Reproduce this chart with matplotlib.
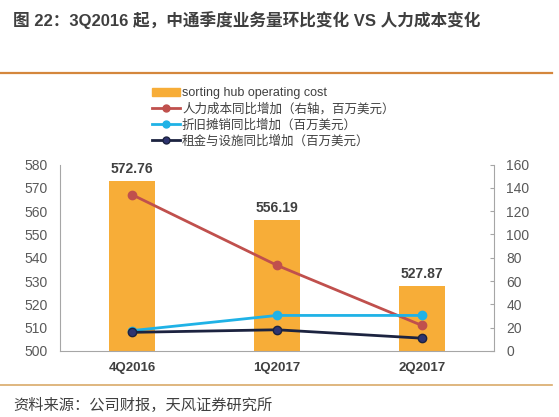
import numpy as np
import matplotlib
matplotlib.use("Agg")
import matplotlib.pyplot as plt
from matplotlib.lines import Line2D
from matplotlib.patches import Patch

plt.rcParams['font.family'] = ['Liberation Sans', 'Noto Sans CJK SC', 'DejaVu Sans']

# ---- data ----
quarters = ["4Q2016", "1Q2017", "2Q2017"]
hub_cost = [572.76, 556.19, 527.87]
labor_yoy = [134, 73.5, 22]        # right axis
depreciation_yoy = [17.5, 30.5, 30.5]
rent_yoy = [16, 18.2, 11]
left_ticks = [500, 510, 520, 530, 540, 550, 560, 570, 580]
right_ticks = [0, 20, 40, 60, 80, 100, 120, 140, 160]

bar_color = "#F7AD38"
red = "#C0504D"
cyan = "#1FB2E6"
navy = "#1C2340"
navy_marker = "#2E3470"
grey_txt = "#595959"
spine_c = "#A6A6A6"

fig = plt.figure(figsize=(5.59, 4.17), dpi=100)
ax = fig.add_axes([0.1073, 0.1583, 0.7764, 0.4472])
x = np.arange(len(quarters))

ax.bar(x, hub_cost, width=0.32, color=bar_color, zorder=2)
for xi, v in zip(x, hub_cost):
    ax.text(xi, v + 2.2, f"{v:.2f}", ha="center", va="bottom",
            fontsize=10, fontweight="bold", color="#404040")

ax.set_xlim(-0.5, 2.5)
ax.set_ylim(500, 580)
ax.set_yticks(left_ticks)
ax.set_xticks(x)
ax.set_xticklabels(quarters, fontweight="bold", color="#404040", fontsize=9.5)
ax.tick_params(axis="x", length=0, pad=8)
ax.tick_params(axis="y", length=0, pad=9, labelsize=10, labelcolor=grey_txt)
for s in ["top", "right"]:
    ax.spines[s].set_visible(False)
for s in ["left", "bottom"]:
    ax.spines[s].set_color(spine_c)

ax2 = ax.twinx()
ax2.plot(x, labor_yoy, color=red, lw=2, marker="o", ms=6)
ax2.plot(x, depreciation_yoy, color=cyan, lw=2, marker="o", ms=6)
ax2.plot(x, rent_yoy, color=navy, lw=2, marker="o", ms=6, mfc=navy_marker, mec=navy)
ax2.set_ylim(0, 160)
ax2.set_yticks(right_ticks)
ax2.tick_params(axis="y", direction="in", length=3, color=spine_c,
                labelsize=10, labelcolor=grey_txt, pad=9)
for s in ["top", "left", "bottom"]:
    ax2.spines[s].set_visible(False)
ax2.spines["right"].set_color(spine_c)

# ---- legend ----
handles = [
    Patch(color=bar_color),
    Line2D([], [], color=red, lw=2, marker="o", ms=5),
    Line2D([], [], color=cyan, lw=2, marker="o", ms=5),
    Line2D([], [], color=navy, lw=2, marker="o", ms=5, mfc=navy_marker),
]
labels = ["sorting hub operating cost",
          "人力成本同比增加（右轴，百万美元）",
          "折旧摊销同比增加（百万美元）",
          "租金与设施同比增加（百万美元）"]
fig.legend(handles, labels, loc="upper left", bbox_to_anchor=(152 / 559, 1 - 87 / 417),
           frameon=False, fontsize=9, handlelength=2.2, handleheight=0.6,
           handletextpad=0.2, labelspacing=0.3, borderpad=0, borderaxespad=0,
           labelcolor="#404040")

# ---- title, rules, source ----
fig.text(13 / 559, 1 - 20.5 / 417, "图 22：3Q2016 起，中通季度业务量环比变化 VS 人力成本变化",
         fontsize=12, fontweight="bold", color="#3F3F3F", va="center", ha="left")
fig.add_artist(Line2D([0, 552 / 559], [1 - 72.5 / 417] * 2, color="#D4873C", lw=1.6))
fig.add_artist(Line2D([0, 552 / 559], [1 - 385 / 417] * 2, color="#D9AA6A", lw=1.2))
fig.text(13 / 559, 1 - 405 / 417, "资料来源：公司财报，天风证券研究所",
         fontsize=11, color="#404040", va="center", ha="left")

fig.savefig("out.png", dpi=100)
